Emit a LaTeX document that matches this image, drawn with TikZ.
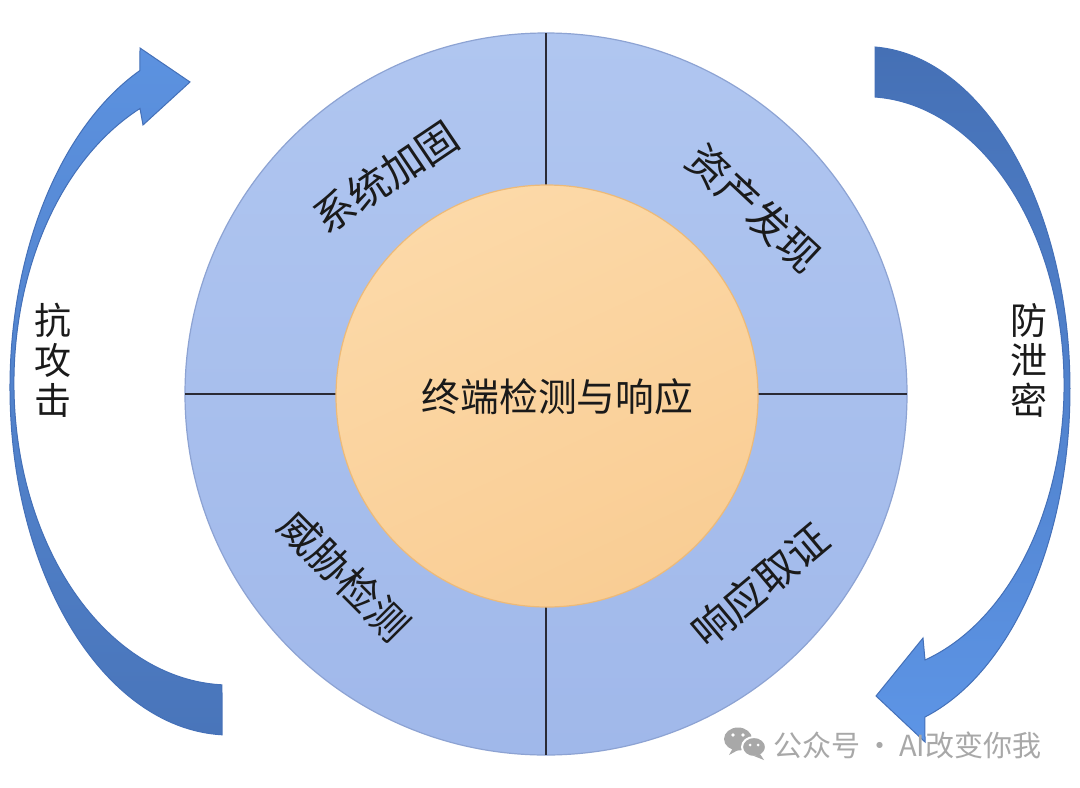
\documentclass[tikz,border=0pt]{standalone}
\usepackage{fontspec}
\newfontfamily\cjk{Noto Sans CJK SC}
\definecolor{ringtop}{HTML}{B0C6F0}
\definecolor{ringbot}{HTML}{A0B8EA}
\definecolor{ringedge}{HTML}{8DA3D3}
\definecolor{coretop}{HTML}{FCD9A8}
\definecolor{corebot}{HTML}{F9CD94}
\definecolor{coreedge}{HTML}{EDBA78}
\definecolor{divcol}{HTML}{2A2A35}
\definecolor{txt}{HTML}{1A1A1A}
\definecolor{arrLtop}{HTML}{5C92E0}
\definecolor{arrLbot}{HTML}{4975BA}
\definecolor{arrRtop}{HTML}{4570B5}
\definecolor{arrRbot}{HTML}{5D95E6}
\definecolor{arredge}{HTML}{4470B8}
\definecolor{wm}{HTML}{A8A8A8}
\tikzset{
  ring/.style={circle, draw=ringedge, line width=0.6pt, top color=ringtop, bottom color=ringbot, minimum size=361pt, inner sep=0pt, outer sep=0pt},
  core/.style={circle, draw=coreedge, line width=0.6pt, top color=coretop, bottom color=corebot, shading angle=25, minimum size=211pt, inner sep=0pt, outer sep=0pt},
  divider/.style={draw=divcol, line width=0.8pt},
  quad/.style={font=\cjk\fontsize{20.5}{22}\selectfont, text=txt, inner sep=0pt},
  centre/.style={font=\cjk\fontsize{19.4}{21}\selectfont, text=txt, inner sep=0pt},
  side/.style={font=\cjk\fontsize{18.5}{20}\selectfont, align=center, text=txt, inner sep=0pt},
  bigarrow/.style={draw=arredge, line width=0.5pt},
  wmtxt/.style={font=\cjk\fontsize{14.5}{16}\selectfont, text=wm, inner sep=0pt},
}
\begin{document}
\begin{tikzpicture}[x=0.5pt,y=0.5pt]
\useasboundingbox (0,0) rectangle (1080,-787);
\fill[white] (0,0) rectangle (1080,-787);

% left curved arrow
\path[bigarrow, top color=arrLtop, bottom color=arrLbot]
 (222,-734.8) arc[start angle=267.92, end angle=114.15, x radius=220, y radius=347.5]
 -- (140,-48) -- (190,-82) -- (143,-125) -- (140,-108.5)
 arc[start angle=114.62, end angle=267.88, x radius=216, y radius=302]
 -- cycle;

% right curved arrow
\path[bigarrow, top color=arrRtop, bottom color=arrRbot]
 (875,-47) arc[start angle=87.2, end angle=-73.0, x radius=205, y radius=342.7]
 -- (925,-742) -- (876,-696) -- (923,-638) -- (925,-660)
 arc[start angle=-72.45, end angle=87.12, x radius=199, y radius=288.4]
 -- cycle;

% circles
\node[ring] (ring) at (546,-394) {};
\draw[divider] (ring.north) -- (ring.south);
\draw[divider] (ring.west) -- (ring.east);
\node[core] (coreC) at (547,-396) {};
\node[centre] (edr) at (557.5,-397) {终端检测与响应};

% quadrant labels
\node[quad, rotate=34] (harden) at (386,-177) {系统加固};
\node[quad, rotate=-43] (asset) at (754.5,-208.5) {资产发现};
\node[quad, rotate=-45] (threat) at (345,-575) {威胁检测};
\node[quad, rotate=40] (forensic) at (760,-585) {响应取证};

% side labels
\node[side] (anti) at (53,-360) {抗\\攻\\击};
\node[side] (leak) at (1029,-360) {防\\泄\\密};

% watermark
\fill[wm] (738,-739) ellipse[x radius=14, y radius=11.5];
\fill[wm] (733,-748) -- (729,-755) -- (740,-749) -- cycle;
\draw[white, line width=1pt, fill=wm] (754,-747) ellipse[x radius=12, y radius=10];
\fill[wm] (760,-754) -- (764,-760) -- (754,-756) -- cycle;
\fill[white] (733,-735) circle[radius=1.8] (743,-735) circle[radius=1.8];
\fill[white] (750,-745) circle[radius=1.5] (758,-745) circle[radius=1.5];
\node[wmtxt, anchor=west] (wmtext) at (773,-745) {公众号\,·\,AI改变你我};
\end{tikzpicture}
\end{document}
